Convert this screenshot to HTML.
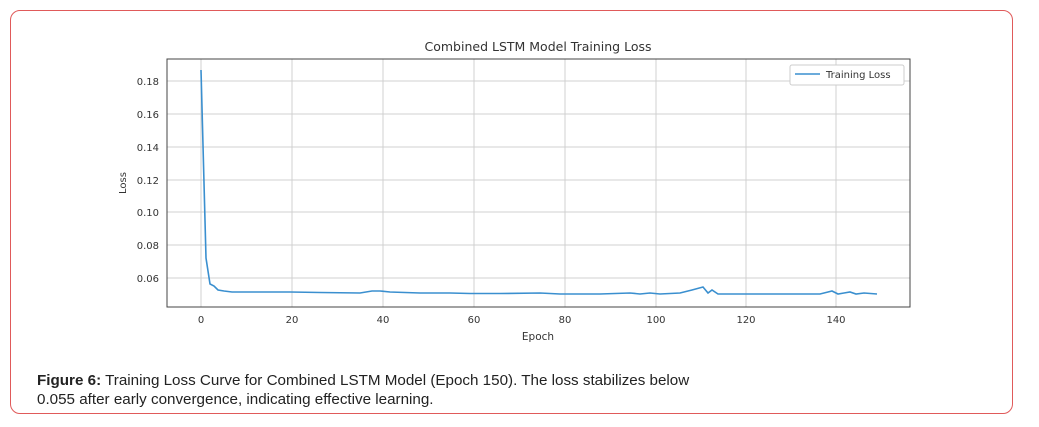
<!DOCTYPE html>
<html><head><meta charset="utf-8"><style>
body{margin:0;background:#fff;width:1039px;height:427px;overflow:hidden;font-family:"Liberation Sans",sans-serif}
.box{position:absolute;left:10px;top:10px;width:1001px;height:402px;border:1px solid #e05a5a;border-radius:10px}
.cap{position:absolute;left:37px;top:371px;font-size:15.2px;line-height:19px;color:#222}
</style></head><body>
<div class="box"></div>
<svg width="1039" height="427" style="position:absolute;left:0;top:0" font-family="DejaVu Sans, sans-serif">
<g stroke="#d0d0d0" stroke-width="1">
<line x1="201" y1="59" x2="201" y2="307"/><line x1="292" y1="59" x2="292" y2="307"/><line x1="383" y1="59" x2="383" y2="307"/><line x1="474" y1="59" x2="474" y2="307"/><line x1="565" y1="59" x2="565" y2="307"/><line x1="656" y1="59" x2="656" y2="307"/><line x1="746" y1="59" x2="746" y2="307"/><line x1="836" y1="59" x2="836" y2="307"/>
<line x1="167" y1="81" x2="910" y2="81"/><line x1="167" y1="114" x2="910" y2="114"/><line x1="167" y1="147" x2="910" y2="147"/><line x1="167" y1="180" x2="910" y2="180"/><line x1="167" y1="212" x2="910" y2="212"/><line x1="167" y1="245" x2="910" y2="245"/><line x1="167" y1="278" x2="910" y2="278"/>
</g>
<rect x="167" y="59" width="743" height="248" fill="none" stroke="#444" stroke-width="1"/>
<g font-size="10" fill="#333" text-anchor="end">
<text x="159" y="85">0.18</text><text x="159" y="118">0.16</text><text x="159" y="151">0.14</text><text x="159" y="184">0.12</text><text x="159" y="216">0.10</text><text x="159" y="249">0.08</text><text x="159" y="282">0.06</text>
</g>
<g font-size="10" fill="#333" text-anchor="middle">
<text x="201" y="323">0</text><text x="292" y="323">20</text><text x="383" y="323">40</text><text x="474" y="323">60</text><text x="565" y="323">80</text><text x="656" y="323">100</text><text x="746" y="323">120</text><text x="836" y="323">140</text>
<text x="538" y="340" font-size="10.5">Epoch</text>
<text x="538" y="51" font-size="12.5">Combined LSTM Model Training Loss</text>
</g>
<text transform="translate(126,183) rotate(-90)" font-size="10" fill="#333" text-anchor="middle">Loss</text>
<polyline fill="none" stroke="#3a8fcf" stroke-width="1.6" points="201,70 206,258 210,284 214,286 218,290 224,291 232,292 260,292 290,292 320,292.5 360,293 372,291 380,291 390,292 420,293 450,293 470,293.5 500,293.5 540,293 560,294 600,294 630,293 640,294 650,293 660,294 680,293 692,290 703,287 708,293 712,290 718,294 740,294 770,294 800,294 820,294 828,292 832,291 838,294 844,293 850,292 856,294 864,293 877,294"/>
<rect x="790" y="65" width="114" height="20" fill="#fff" stroke="#ccc" rx="2"/>
<line x1="795" y1="74" x2="820" y2="74" stroke="#3a8fcf" stroke-width="1.6"/>
<text x="826" y="78" font-size="10" fill="#333">Training Loss</text>
</svg>
<div class="cap"><b>Figure 6:</b> Training Loss Curve for Combined LSTM Model (Epoch 150). The loss stabilizes below<br>0.055 after early convergence, indicating effective learning.</div>
</body></html>
